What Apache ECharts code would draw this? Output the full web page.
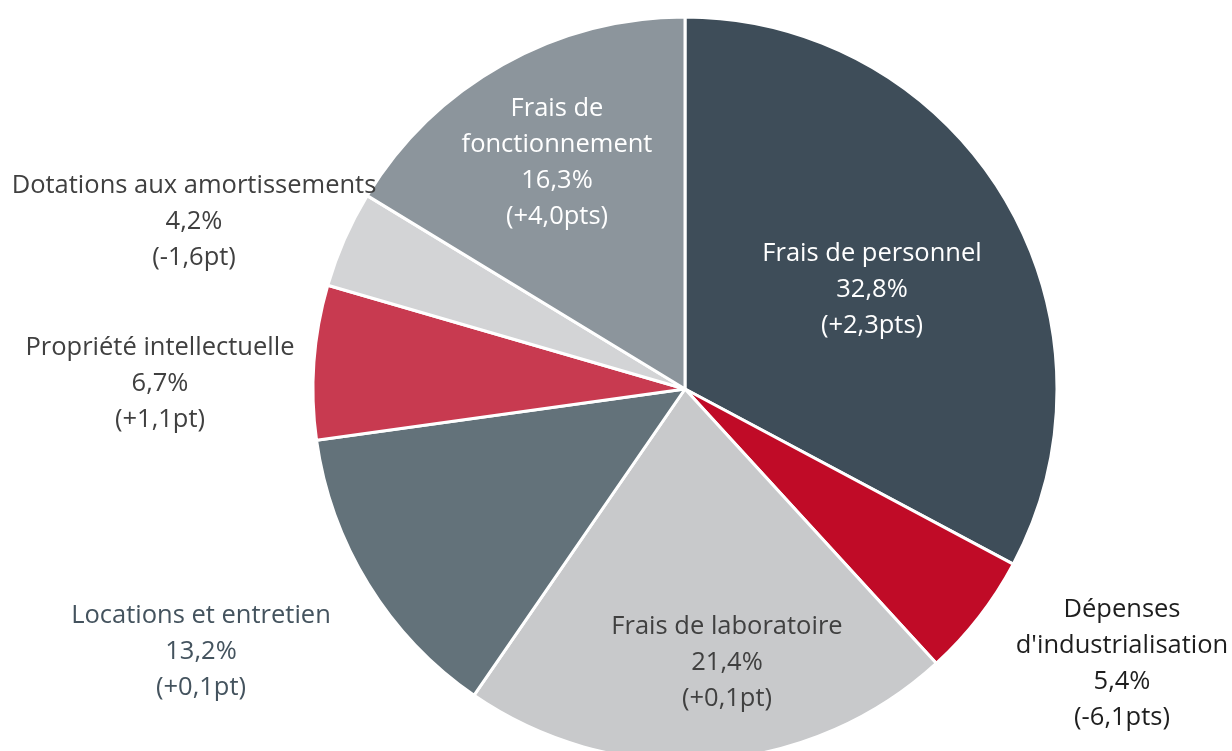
<!DOCTYPE html>
<html><head><meta charset="utf-8">
<script src="https://cdn.jsdelivr.net/npm/echarts@6/dist/echarts.min.js"></script>
<style>html,body{margin:0;padding:0;background:#fff}#c{width:1232px;height:751px}</style>
</head><body><div id="c"></div>
<script>
const categories = ["Frais de personnel","Dépenses\nd'industrialisation","Frais de laboratoire","Locations et entretien","Propriété intellectuelle","Dotations aux amortissements","Frais de\nfonctionnement"];
const shares = [32.8, 5.4, 21.4, 13.2, 6.7, 4.2, 16.3];
const changes = ["(+2,3pts)","(-6,1pts)","(+0,1pt)","(+0,1pt)","(+1,1pt)","(-1,6pt)","(+4,0pts)"];

const colors = ["#3e4d59","#c00b27","#c8c9cb","#63727a","#c83a50","#d3d4d6","#8c959c"];
const textColors = ["#ffffff","#1e1e1e","#404040","#44535e","#404040","#404040","#ffffff"];
const labelCenters = [[872,290],[1122,664],[727,663],[201,652],[160,384],[194,222],[557,163]];

const fmt = v => v.toFixed(1).replace('.', ',') + '%';
const data = categories.map((n, i) => ({
  name: n, value: shares[i],
  itemStyle: {color: colors[i]},
  label: {color: textColors[i]}
}));
const chart = echarts.init(document.getElementById('c'), null, {renderer: 'canvas'});
chart.setOption({
  animation: false,
  series: [{
    type: 'pie',
    center: [685, 389],
    radius: [0, 372],
    startAngle: 90,
    clockwise: true,
    data: data,
    itemStyle: {borderColor: '#ffffff', borderWidth: 3},
    label: {
      show: true, position: 'inside',
      fontFamily: 'Open Sans', fontSize: 25.5, lineHeight: 36,
      align: 'center', verticalAlign: 'middle',
      formatter: p => p.name + '\n' + fmt(p.value) + '\n' + changes[p.dataIndex]
    },
    labelLine: {show: false},
    labelLayout: p => ({x: labelCenters[p.dataIndex][0], y: labelCenters[p.dataIndex][1], align: 'center', verticalAlign: 'middle'})
  }]
});
</script></body></html>
